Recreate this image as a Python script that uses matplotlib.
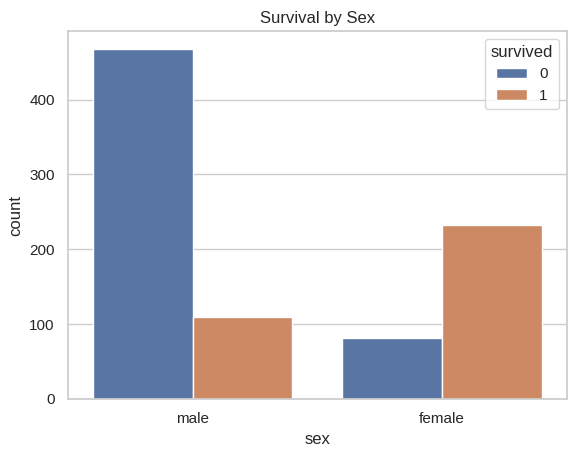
import matplotlib
matplotlib.use("Agg")
import matplotlib.pyplot as plt
import seaborn as sns
import pandas as pd

sexes = ["male", "male", "female", "female"]
survived = ["0", "1", "0", "1"]
counts = [468, 109, 81, 233]

sns.set_theme(style="whitegrid")
plt.rcParams["font.family"] = ["Liberation Sans", "DejaVu Sans"]

df = pd.DataFrame({"sex": sexes, "survived": survived, "count": counts})

fig = plt.figure(figsize=(5.75, 4.57), dpi=100)
ax = fig.add_axes([0.118, 0.127, 0.868, 0.805])
sns.barplot(data=df, x="sex", y="count", hue="survived", ax=ax,
            order=["male", "female"], hue_order=["0", "1"])
ax.set_title("Survival by Sex")
ax.set_xlabel("sex")
ax.set_ylabel("count")
fig.savefig("out.png", dpi=100)
